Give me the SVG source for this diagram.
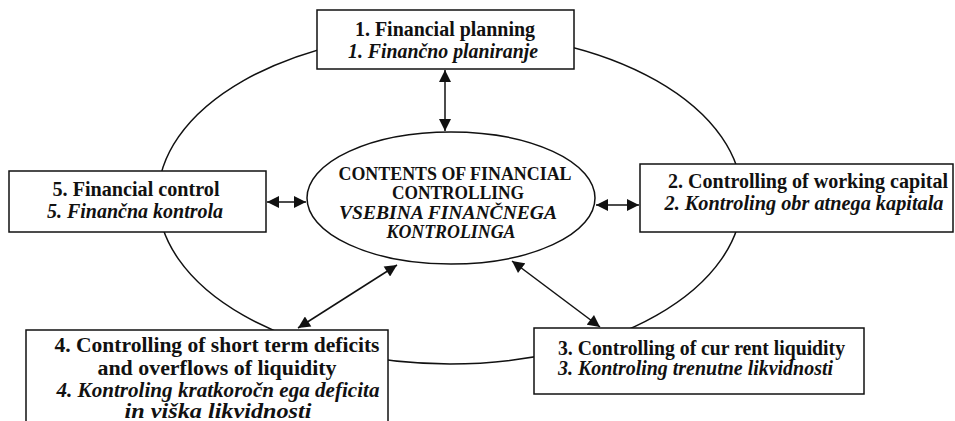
<svg xmlns="http://www.w3.org/2000/svg" width="955" height="421" viewBox="0 0 955 421">
<style>
.box{fill:#fff;stroke:#111;stroke-width:1.5}
.ell{fill:none;stroke:#111;stroke-width:1.5}
.t{font-family:"Liberation Serif","Times New Roman",serif;font-size:20px;fill:#111}
.s{font-size:18px}
.b{font-weight:bold}
.i{font-weight:bold;font-style:italic}
.c{text-anchor:middle}
.con{stroke:#111;stroke-width:1.5;fill:none;marker-start:url(#ah);marker-end:url(#ah)}
</style>
<defs>
<marker id="ah" viewBox="0 0 10 10" refX="10" refY="5" markerWidth="13" markerHeight="12" markerUnits="userSpaceOnUse" orient="auto-start-reverse">
<path d="M0,0 L10,5 L0,10 z" fill="#111"/>
</marker>
</defs>
<ellipse id="cycle" class="ell" cx="450" cy="198" rx="292" ry="166"/>
<g id="connectors">
<line class="con" x1="445" y1="70" x2="445" y2="131"/>
<line class="con" x1="267" y1="202" x2="306" y2="202"/>
<line class="con" x1="596" y1="205" x2="639" y2="205"/>
<line class="con" x1="397" y1="265" x2="298" y2="328"/>
<line class="con" x1="512" y1="261" x2="600" y2="327"/>
</g>
<g id="center">
<ellipse cx="451" cy="198" rx="144" ry="66" fill="#fff" stroke="#111" stroke-width="1.5"/>
<text class="t s b c" x="455" y="180" textLength="233" lengthAdjust="spacingAndGlyphs">CONTENTS OF FINANCIAL</text>
<text class="t s b c" x="458" y="199" textLength="132" lengthAdjust="spacingAndGlyphs">CONTROLLING</text>
<text class="t s i c" x="448" y="219" textLength="218" lengthAdjust="spacingAndGlyphs">VSEBINA  FINANČNEGA</text>
<text class="t s i c" x="451" y="238" textLength="129" lengthAdjust="spacingAndGlyphs">KONTROLINGA</text>
</g>
<g id="node1">
<rect class="box" x="317" y="10" width="257" height="59"/>
<text class="t b c" x="445" y="36" textLength="180" lengthAdjust="spacingAndGlyphs">1. Financial planning</text>
<text class="t i c" x="443" y="58" textLength="190" lengthAdjust="spacingAndGlyphs">1. Finančno planiranje</text>
</g>
<g id="node2">
<rect class="box" x="640" y="164" width="313" height="68"/>
<text class="t b c" x="808" y="188" textLength="280" lengthAdjust="spacingAndGlyphs">2. Controlling of working capital</text>
<text class="t i c" x="804" y="210" textLength="279" lengthAdjust="spacingAndGlyphs">2. Kontroling obr atnega kapitala</text>
</g>
<g id="node3">
<rect class="box" x="534" y="328" width="330" height="66"/>
<text class="t b" x="558" y="355" textLength="287" lengthAdjust="spacingAndGlyphs">3. Controlling of cur rent liquidity</text>
<text class="t i" x="558" y="375" textLength="275" lengthAdjust="spacingAndGlyphs">3. Kontroling trenutne likvidnosti</text>
</g>
<g id="node4">
<rect class="box" x="26" y="330" width="362" height="100"/>
<text class="t b c" x="217" y="352" textLength="325" lengthAdjust="spacingAndGlyphs">4. Controlling of short term deficits</text>
<text class="t b c" x="217" y="375" textLength="239" lengthAdjust="spacingAndGlyphs">and overflows of liquidity</text>
<text class="t i c" x="218" y="397" textLength="323" lengthAdjust="spacingAndGlyphs">4. Kontroling kratkoročn  ega deficita</text>
<text class="t i c" x="218" y="418" textLength="187" lengthAdjust="spacingAndGlyphs">in viška likvidnosti</text>
</g>
<g id="node5">
<rect class="box" x="9" y="171" width="257" height="61"/>
<text class="t b c" x="136" y="196" textLength="167" lengthAdjust="spacingAndGlyphs">5. Financial control</text>
<text class="t i c" x="135" y="218" textLength="176" lengthAdjust="spacingAndGlyphs">5. Finančna kontrola</text>
</g>
</svg>
